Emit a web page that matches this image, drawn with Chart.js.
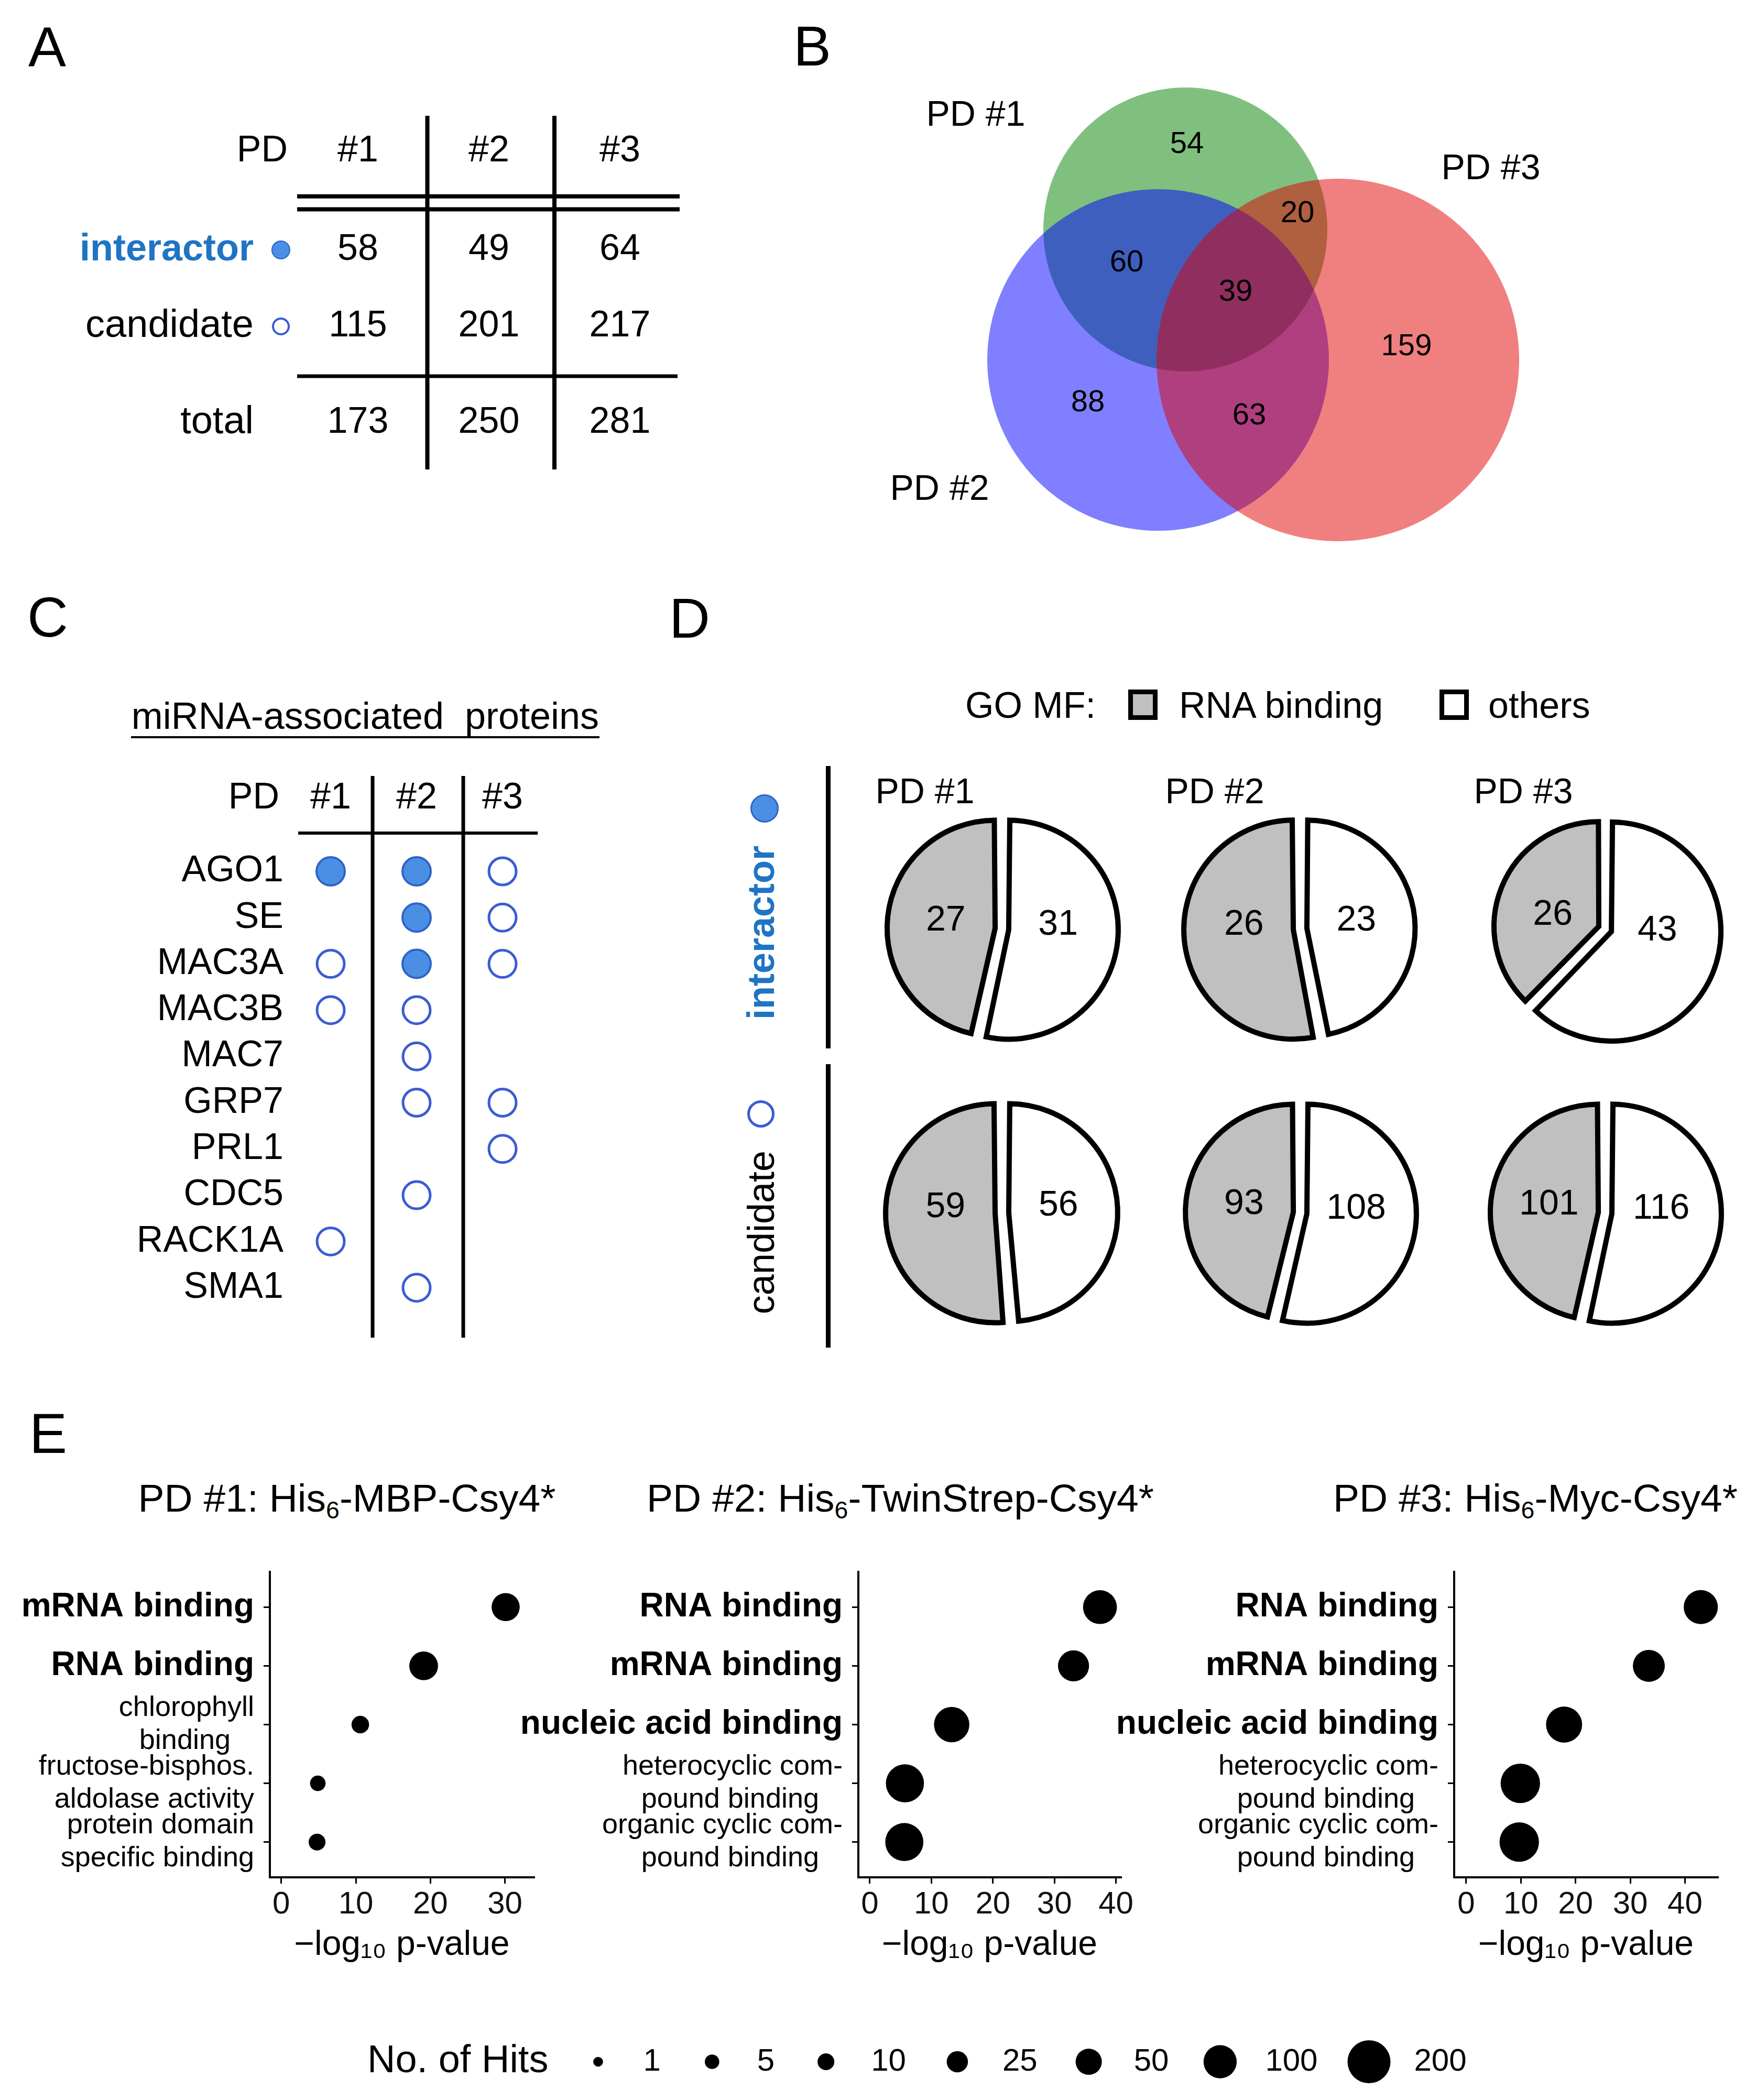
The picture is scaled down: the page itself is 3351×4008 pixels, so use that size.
<!DOCTYPE html>
<html>
<head>
<meta charset="utf-8">
<title>Csy4 pull-down overview</title>
<script src="https://cdn.jsdelivr.net/npm/chart.js@4.4.1/dist/chart.umd.min.js"></script>
<style>
  body { margin: 0; width: 3351px; height: 4008px; position: relative; overflow: hidden; background: #fff;
         font-family: "Liberation Sans", Arial, sans-serif; color: #000; }
  canvas, .t, .box, .dot, .vline { position: absolute; }
  .t { white-space: nowrap; }
  .box { box-sizing: border-box; border: 9px solid #000; }
  .dot { box-sizing: border-box; border-radius: 50%; }
  .vline { background: #000; }
  sub { font-size: 0.62em; vertical-align: -0.28em; line-height: 0; }
</style>
</head>
<body>
<script>
const FONT = '"Liberation Sans", Arial, sans-serif'

// A: proteins per pull-down
const pdLabels = ['#1', '#2', '#3']
const classLabels = ['interactor', 'candidate', 'total']
const interactorCounts = [58, 49, 64]
const candidateCounts = [115, 201, 217]
const totalCounts = [173, 250, 281]

// B: overlap of the three pull-downs
const vennSets = ['PD #1', 'PD #2', 'PD #3']
const vennRegions = ['#1 only', '#1 #3', '#1 #2', '#1 #2 #3', '#3 only', '#2 only', '#2 #3']
const vennCounts = [54, 20, 60, 39, 159, 88, 63]

// C: miRNA-associated proteins (2 = interactor, 1 = candidate, 0 = not found)
const mirnaProteins = ['AGO1', 'SE', 'MAC3A', 'MAC3B', 'MAC7', 'GRP7', 'PRL1', 'CDC5', 'RACK1A', 'SMA1']
const foundPD1 = [2, 0, 1, 1, 0, 0, 0, 0, 1, 0]
const foundPD2 = [2, 2, 2, 1, 1, 1, 0, 1, 0, 1]
const foundPD3 = [1, 1, 1, 0, 0, 1, 1, 0, 0, 0]

// D: GO MF, RNA binding vs others
const pieTitles = ['PD #1', 'PD #2', 'PD #3']
const rnaInteractor = [27, 26, 26]
const othersInteractor = [31, 23, 43]
const rnaCandidate = [59, 93, 101]
const othersCandidate = [56, 108, 116]

// E: GO enrichment per pull-down
const termsPD1 = ['mRNA binding', 'RNA binding', ['chlorophyll', 'binding   '], ['fructose-bisphos.', 'aldolase activity'], ['protein domain', 'specific binding']]
const log10pPD1 = [30.1, 19.1, 10.6, 4.9, 4.8]
const hitsPD1 = [62, 66, 12, 7, 10]
const termsPD2 = ['RNA binding', 'mRNA binding', 'nucleic acid binding', ['heterocyclic com-', 'pound binding   '], ['organic cyclic com-', 'pound binding   ']]
const log10pPD2 = [37.4, 33.1, 13.3, 5.7, 5.6]
const hitsPD2 = [106, 83, 119, 146, 146]
const termsPD3 = ['RNA binding', 'mRNA binding', 'nucleic acid binding', ['heterocyclic com-', 'pound binding   '], ['organic cyclic com-', 'pound binding   ']]
const log10pPD3 = [42.9, 33.4, 17.9, 9.9, 9.7]
const hitsPD3 = [108, 90, 126, 160, 160]
const hitBreaks = [1, 5, 10, 25, 50, 100, 200]
const boldTerms = ['mRNA binding', 'RNA binding', 'nucleic acid binding']

const BLUE_TEXT = '#1f74c4'
const DOT_FILL = '#4a8fe3'
const DOT_EDGE = '#2f63c8'
const RING = '#3b5cd4'

Chart.defaults.font.family = FONT
Chart.defaults.color = '#000'
Chart.defaults.animation = false
Chart.defaults.responsive = false
Chart.defaults.events = []
Chart.defaults.layout.autoPadding = false
Chart.defaults.plugins.legend.display = false
Chart.defaults.plugins.tooltip.enabled = false

// size scale for the GO bubbles (area grows with the hit count, 1..200)
function hitRadius(n) {
    return 9.3 + 31.7 * Math.sqrt((n - 1) / 199)
}

function addCanvas(left, top, w, h) {
    const c = document.createElement('canvas')
    c.width = w
    c.height = h
    c.style.left = left + 'px'
    c.style.top = top + 'px'
    c.style.width = w + 'px'
    c.style.height = h + 'px'
    document.body.appendChild(c)
    return c
}

function addText(html, x, cy, size, opts = {}) {
    const d = document.createElement('div')
    d.className = 't'
    d.innerHTML = html
    d.style.fontSize = size + 'px'
    d.style.lineHeight = size + 'px'
    d.style.left = x + 'px'
    d.style.top = (cy - size / 2) + 'px'
    if (opts.weight) d.style.fontWeight = opts.weight
    if (opts.color) d.style.color = opts.color
    let tr = ''
    if (opts.align === 'center') tr += 'translateX(-50%) '
    if (opts.align === 'right') tr += 'translateX(-100%) '
    if (opts.rotate) tr += 'rotate(' + opts.rotate + 'deg)'
    d.style.transform = tr
    document.body.appendChild(d)
}

function addDiv(cls, left, top, w, h, style = {}) {
    const d = document.createElement('div')
    d.className = cls
    d.style.left = left + 'px'
    d.style.top = top + 'px'
    d.style.width = w + 'px'
    d.style.height = h + 'px'
    Object.assign(d.style, style)
    document.body.appendChild(d)
}

function hiddenScales(xmin, xmax, ymin, ymax) {
    return {
        x: { type: 'linear', display: false, min: xmin, max: xmax },
        y: { type: 'linear', display: false, min: ymin, max: ymax, reverse: true }
    }
}

// text and rule lines placed in the chart's own data coordinates
function annotate(texts, lines) {
    return {
        id: 'annotate',
        afterDatasetsDraw(chart) {
            const { ctx } = chart
            const { x, y } = chart.scales
            ctx.save()
            lines.forEach(l => {
                ctx.beginPath()
                ctx.strokeStyle = l.color || '#000'
                ctx.lineWidth = l.width || 7
                ctx.moveTo(x.getPixelForValue(l.x1), y.getPixelForValue(l.y1))
                ctx.lineTo(x.getPixelForValue(l.x2), y.getPixelForValue(l.y2))
                ctx.stroke()
            })
            texts.forEach(t => {
                ctx.font = (t.weight || 'normal') + ' ' + (t.size || 68) + 'px ' + FONT
                ctx.fillStyle = t.color || '#000'
                ctx.textAlign = t.align || 'center'
                ctx.textBaseline = 'middle'
                ctx.fillText(t.text, x.getPixelForValue(t.x), y.getPixelForValue(t.y))
            })
            ctx.restore()
        }
    }
}

// panel letters
addText('A', 54, 90, 108)
addText('B', 1514, 88, 108)
addText('C', 52, 1178, 108)
addText('D', 1277, 1180, 108)
addText('E', 56, 2736, 108)

// ---------- A: table (x = PD column, y = row)
const rowYA = [0, 1, 2.26]
const rowsA = [interactorCounts, candidateCounts, totalCounts]
const textsA = [{ x: -0.536, y: -1.29, text: 'PD', align: 'right', size: 70 }]
pdLabels.forEach((l, i) => textsA.push({ x: i, y: -1.29, text: l, size: 70 }))
classLabels.forEach((l, r) => {
    textsA.push({ x: -0.796, y: rowYA[r], text: l, align: 'right', size: r === 0 ? 72 : 74,
        color: r === 0 ? BLUE_TEXT : '#000', weight: r === 0 ? 'bold' : 'normal' })
    rowsA[r].forEach((v, i) => textsA.push({ x: i, y: rowYA[r], text: String(v), size: 70 }))
})
const linesA = [
    { x1: 0.53, y1: -1.753, x2: 0.53, y2: 2.87, width: 8 },
    { x1: 1.50, y1: -1.753, x2: 1.50, y2: 2.87, width: 8 },
    { x1: -0.464, y1: -0.70, x2: 2.456, y2: -0.70, width: 8 },
    { x1: -0.464, y1: -0.53, x2: 2.456, y2: -0.53, width: 8 },
    { x1: -0.464, y1: 1.65, x2: 2.44, y2: 1.65, width: 7 }
]
new Chart(addCanvas(0, 0, 1340, 950), {
    type: 'scatter',
    data: {
        datasets: [{
            data: [{ x: -0.588, y: 0 }, { x: -0.588, y: 1 }],
            pointRadius: [17, 15],
            pointBackgroundColor: [DOT_FILL, '#fff'],
            pointBorderColor: [DOT_EDGE, RING],
            pointBorderWidth: [2, 4]
        }]
    },
    options: {
        layout: { padding: 0 },
        scales: hiddenScales(-683 / 250, (1340 - 683) / 250, -477 / 146, (950 - 477) / 146)
    },
    plugins: [annotate(textsA, linesA)]
})

// ---------- B: Venn diagram
const vennCx = [922, 870, 1213]
const vennCy = [438, 687, 687]
const vennR = [271, 326, 346]
const vennFill = ['rgba(0,130,0,0.5)', 'rgba(0,0,255,0.5)', 'rgba(225,0,0,0.5)']
const vennCountPos = [[925, 276], [1136, 408], [810, 502], [1018, 558], [1344, 662], [736, 769], [1044, 794]]
const vennSetPos = [[522, 221], [453, 935], [1505, 323]]
const textsB = []
vennCounts.forEach((v, i) => textsB.push({ x: vennCountPos[i][0], y: vennCountPos[i][1], text: String(v), size: 58 }))
vennSets.forEach((s, i) => textsB.push({ x: vennSetPos[i][0], y: vennSetPos[i][1], text: s, size: 68 }))
new Chart(addCanvas(1340, 0, 2011, 1080), {
    type: 'bubble',
    data: {
        datasets: [{
            data: vennSets.map((s, i) => ({ x: vennCx[i], y: vennCy[i], r: vennR[i] })),
            backgroundColor: vennFill,
            borderWidth: 0,
            clip: false
        }]
    },
    options: { layout: { padding: 0 }, scales: hiddenScales(0, 2011, 0, 1080) },
    plugins: [annotate(textsB, [])]
})

// ---------- C: miRNA-associated proteins
const foundByPD = [foundPD1, foundPD2, foundPD3]
const interactorPts = []
const candidatePts = []
foundByPD.forEach((col, c) => col.forEach((s, r) => {
    if (s === 2) interactorPts.push({ x: c, y: r })
    if (s === 1) candidatePts.push({ x: c, y: r })
}))
const textsC = [
    { x: 0.402, y: -3.30, text: 'miRNA-associated  proteins', size: 72 },
    { x: -0.598, y: -1.574, text: 'PD', align: 'right', size: 70 }
]
pdLabels.forEach((l, i) => textsC.push({ x: i, y: -1.574, text: l, size: 70 }))
mirnaProteins.forEach((p, r) => textsC.push({ x: -0.549, y: r, text: p, align: 'right', size: 70 }))
const linesC = [
    { x1: -2.323, y1: -2.90, x2: 3.128, y2: -2.90, width: 4 },
    { x1: -0.378, y1: -0.827, x2: 2.409, y2: -0.827, width: 6 },
    { x1: 0.488, y1: -2.06, x2: 0.488, y2: 10.08, width: 7 },
    { x1: 1.543, y1: -2.06, x2: 1.543, y2: 10.08, width: 7 }
]
new Chart(addCanvas(0, 1300, 1250, 1280), {
    type: 'scatter',
    data: {
        datasets: [
            { data: interactorPts, pointRadius: 27, pointBackgroundColor: DOT_FILL, pointBorderColor: DOT_EDGE, pointBorderWidth: 4 },
            { data: candidatePts, pointRadius: 26, pointBackgroundColor: '#fff', pointBorderColor: RING, pointBorderWidth: 5 }
        ]
    },
    options: {
        layout: { padding: 0 },
        scales: hiddenScales(-631 / 164, (1250 - 631) / 164, -363 / 88.3, (1280 - 363) / 88.3)
    },
    plugins: [annotate(textsC, linesC)]
})

// ---------- D: pies
const pieLabels = {
    id: 'pieLabels',
    afterDatasetsDraw(chart) {
        const { ctx } = chart
        const values = chart.data.datasets[0].data
        ctx.save()
        ctx.font = '68px ' + FONT
        ctx.fillStyle = '#000'
        ctx.textAlign = 'center'
        ctx.textBaseline = 'middle'
        chart.getDatasetMeta(0).data.forEach((arc, i) => {
            const p = arc.getProps(['x', 'y', 'startAngle', 'endAngle', 'outerRadius'], true)
            const mid = (p.startAngle + p.endAngle) / 2
            const lx = p.x + Math.cos(mid) * p.outerRadius * 0.55
            const ly = p.y + Math.sin(mid) * p.outerRadius * 0.2 - 12
            ctx.fillText(String(values[i]), lx, ly)
        })
        ctx.restore()
    }
}
const pieColX = [1912, 2481, 3063]
const pieRowY = [1773, 2315]
const pieRows = [[rnaInteractor, othersInteractor], [rnaCandidate, othersCandidate]]
pieRows.forEach(([rna, others], r) => {
    pieTitles.forEach((t, c) => {
        new Chart(addCanvas(pieColX[c] - 250, pieRowY[r] - 250, 500, 500), {
            type: 'pie',
            data: {
                labels: ['others', 'RNA binding'],
                datasets: [{
                    data: [others[c], rna[c]],
                    backgroundColor: ['#ffffff', '#c0c0c0'],
                    borderColor: '#000',
                    borderWidth: 10,
                    borderJoinStyle: 'miter',
                    offset: 52
                }]
            },
            options: { radius: 196, layout: { padding: 0 } },
            plugins: [pieLabels]
        })
    })
})
pieTitles.forEach((t, c) => addText(t, [1765, 2318, 2907][c], 1509, 68, { align: 'center' }))
addText('GO MF:', 1842, 1346, 70)
addDiv('box', 2153, 1316, 56, 58, { background: '#c0c0c0' })
addText('RNA binding', 2250, 1346, 70)
addDiv('box', 2747, 1316, 56, 58, { background: '#fff' })
addText('others', 2840, 1346, 70)
addText('interactor', 1452, 1780, 72, { align: 'center', rotate: -90, weight: 'bold', color: BLUE_TEXT })
addText('candidate', 1452, 2352, 72, { align: 'center', rotate: -90 })
addDiv('dot', 1459 - 27, 1543 - 27, 54, 54, { background: DOT_FILL, border: '3px solid ' + DOT_EDGE })
addDiv('dot', 1452 - 26, 2126 - 26, 52, 52, { background: '#fff', border: '5px solid ' + RING })
addDiv('vline', 1576, 1462, 9, 539)
addDiv('vline', 1576, 2031, 9, 541)

// ---------- E: GO enrichment bubbles
addText('PD #1: His<sub>6</sub>-MBP-Csy4*', 662, 2859, 75, { align: 'center' })
addText('PD #2: His<sub>6</sub>-TwinStrep-Csy4*', 1718, 2859, 75, { align: 'center' })
addText('PD #3: His<sub>6</sub>-Myc-Csy4*', 2930, 2859, 75, { align: 'center' })

function goChart(left, width, yAxisWidth, padRight, terms, log10p, hits, xMin, xMax, xTicks) {
    const axisGrid = { display: true, drawOnChartArea: false, drawTicks: true, tickLength: 12, color: '#000', lineWidth: 3 }
    const axisBorder = { display: true, color: '#000', width: 4 }
    return new Chart(addCanvas(left, 2950, width, 802), {
        type: 'bubble',
        data: {
            datasets: [{
                data: terms.map((t, i) => ({ x: log10p[i], y: i, r: hitRadius(hits[i]) })),
                backgroundColor: '#000',
                borderWidth: 0,
                clip: false
            }]
        },
        options: {
            layout: { padding: { top: 50, right: padRight, bottom: 0, left: 0 } },
            scales: {
                x: {
                    type: 'linear', min: xMin, max: xMax,
                    afterBuildTicks: s => { s.ticks = xTicks.map(v => ({ value: v })) },
                    afterFit: s => { s.height = 169 },
                    grid: axisGrid,
                    border: axisBorder,
                    ticks: { font: { size: 60 }, color: '#111', padding: 4, maxRotation: 0 },
                    title: { display: true, text: '−log₁₀ p-value', font: { size: 66 }, color: '#000', padding: 0 }
                },
                y: {
                    type: 'linear', min: -0.6, max: 4.6, reverse: true,
                    afterBuildTicks: s => { s.ticks = terms.map((t, i) => ({ value: i })) },
                    afterFit: s => {
                        s.width = yAxisWidth
                        s.paddingTop = 0
                        s.paddingBottom = 0
                    },
                    grid: axisGrid,
                    border: axisBorder,
                    ticks: {
                        padding: 18,
                        autoSkip: false,
                        color: '#000',
                        callback: v => terms[v],
                        font: ctx => boldTerms.includes(terms[ctx.index])
                            ? { size: 64, weight: 'bold', lineHeight: 1.2 }
                            : { size: 54, lineHeight: 1.18 }
                    }
                }
            }
        }
    })
}

goChart(0, 1100, 515, 81, termsPD1, log10pPD1, hitsPD1, -1.53, 33.9, [0, 10, 20, 30])
goChart(950, 1250, 688, 61, termsPD2, log10pPD2, hitsPD2, -1.87, 40.8, [0, 10, 20, 30, 40])
goChart(2110, 1241, 665, 73, termsPD3, log10pPD3, hitsPD3, -2.2, 46, [0, 10, 20, 30, 40])

// ---------- E legend: No. of Hits
const meas = document.createElement('canvas').getContext('2d')
meas.font = '74px ' + FONT
let cursor = 701 - 650 + meas.measureText('No. of Hits').width + 95
meas.font = '60px ' + FONT
const legendDots = []
const textsLegend = [{ x: 701 - 650, y: 75, text: 'No. of Hits', align: 'left', size: 74 }]
hitBreaks.forEach(n => {
    legendDots.push({ x: cursor, y: 75, r: hitRadius(n) })
    textsLegend.push({ x: cursor + 86, y: 75, text: String(n), align: 'left', size: 60 })
    cursor += 86 + meas.measureText(String(n)).width + 98
})
new Chart(addCanvas(650, 3860, 2300, 148), {
    type: 'bubble',
    data: { datasets: [{ data: legendDots, backgroundColor: '#000', borderWidth: 0, clip: false }] },
    options: { layout: { padding: 0 }, scales: hiddenScales(0, 2300, 0, 148) },
    plugins: [annotate(textsLegend, [])]
})
</script>
</body>
</html>
